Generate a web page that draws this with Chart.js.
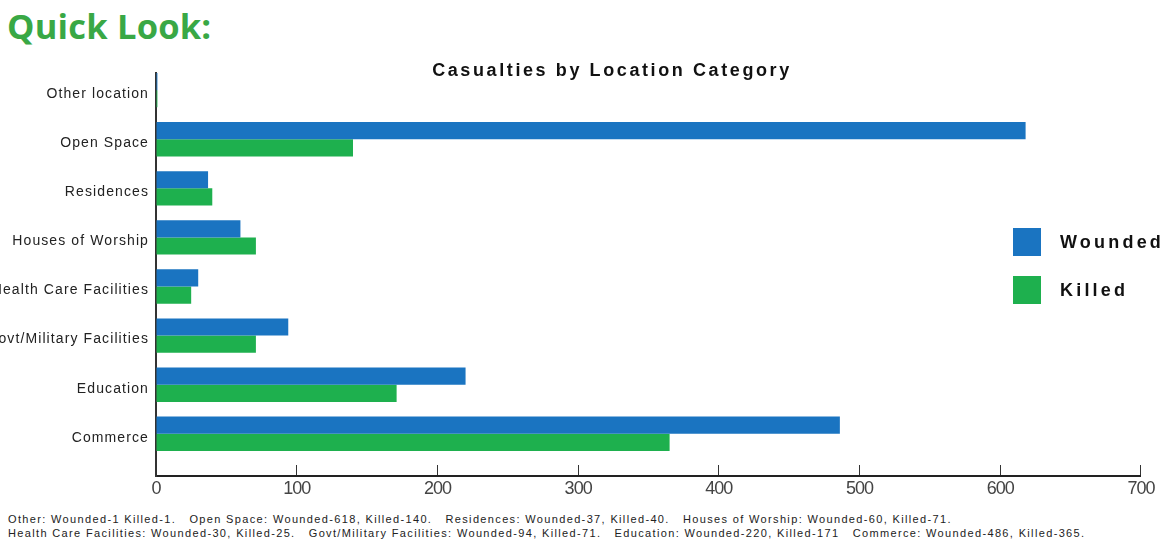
<!DOCTYPE html>
<html>
<head>
<meta charset="utf-8">
<title>Casualties by Location Category</title>
<script src="https://cdn.jsdelivr.net/npm/chart.js@4.4.1/dist/chart.umd.min.js"></script>
<style>
  html, body { margin: 0; padding: 0; background: #fff; }
  body { width: 1169px; height: 554px; position: relative; overflow: hidden; font-family: "Liberation Sans", Arial, sans-serif; }
  .page-title { position: absolute; left: 7px; top: 2px; margin: 0; font-family: "Open Sans", sans-serif; font-weight: 700; font-size: 34.5px; color: #39a845; letter-spacing: 0.2px; }
  .chart-box { position: absolute; left: 0; top: 0; width: 1169px; height: 510px; }
  .chart-title { position: absolute; left: 362px; width: 500px; top: 60px; text-align: center; font-weight: 700; font-size: 18px; letter-spacing: 2.6px; color: #111; }
  .legend { position: absolute; left: 1013px; top: 228px; }
  .legend-item { display: flex; align-items: center; height: 28px; margin-bottom: 20px; }
  .legend-swatch { width: 28px; height: 28px; margin-right: 19px; }
  .legend-text { font-weight: 700; font-size: 18px; letter-spacing: 3.2px; color: #111; }
  .footnote { position: absolute; left: 8px; top: 512px; font-size: 11px; line-height: 14px; letter-spacing: 1.35px; color: #222; white-space: pre; }
</style>
</head>
<body>
<h1 class="page-title">Quick Look:</h1>
<div class="chart-box"><canvas id="casualtyChart"></canvas></div>
<div class="chart-title">Casualties by Location Category</div>
<div class="legend" id="legend"></div>
<div class="footnote">Other: Wounded-1 Killed-1.   Open Space: Wounded-618, Killed-140.   Residences: Wounded-37, Killed-40.   Houses of Worship: Wounded-60, Killed-71.
Health Care Facilities: Wounded-30, Killed-25.   Govt/Military Facilities: Wounded-94, Killed-71.   Education: Wounded-220, Killed-171   Commerce: Wounded-486, Killed-365.</div>

<script>
// location categories, top to bottom
const locations = ['Other location', 'Open Space', 'Residences', 'Houses of Worship',
  'Health Care Facilities', 'Govt/Military Facilities', 'Education', 'Commerce'];
const wounded = [1, 618, 37, 60, 30, 94, 220, 486];
const killed = [1, 140, 40, 71, 25, 71, 171, 365];
const xTicks = [0, 100, 200, 300, 400, 500, 600, 700];

const BLUE = '#1a74c1';
const GREEN = '#1eb04e';

// the location axis is linear so it can run a little past the last row
const toPoints = (values) => values.map((v, i) => ({ x: v, y: i }));

// canvas letterSpacing for one scale's tick labels
function spaceLabels(scale, spacing) {
  if (!scale || scale._spaced) return;
  const draw = scale.drawLabels;
  scale.drawLabels = function (area) {
    const ctx = this.ctx;
    ctx.save();
    ctx.letterSpacing = spacing;
    draw.call(this, area);
    ctx.restore();
  };
  scale._spaced = true;
}

const labelSpacing = {
  id: 'labelSpacing',
  beforeDraw(chart) {
    spaceLabels(chart.scales.y, '1.1px');
    spaceLabels(chart.scales.x, '-1px');
  }
};

const chart = new Chart(document.getElementById('casualtyChart'), {
  type: 'bar',
  data: {
    datasets: [
      { label: 'Wounded', data: toPoints(wounded), backgroundColor: BLUE },
      { label: 'Killed', data: toPoints(killed), backgroundColor: GREEN }
    ]
  },
  options: {
    indexAxis: 'y',
    responsive: true,
    maintainAspectRatio: false,
    animation: false,
    categoryPercentage: 0.7,
    barPercentage: 1.0,
    layout: { padding: { top: 73, right: 26, left: 0, bottom: 0 } },
    plugins: {
      legend: { display: false },
      tooltip: { enabled: false },
      title: { display: false }
    },
    scales: {
      x: {
        type: 'linear',
        min: xTicks[0],
        max: xTicks[xTicks.length - 1],
        afterBuildTicks: (scale) => { scale.ticks = xTicks.map(v => ({ value: v })); },
        afterFit: (scale) => { scale.height = 34; },
        grid: { display: true, drawOnChartArea: false, drawTicks: true, tickLength: -11, color: '#333', lineWidth: 1 },
        border: { display: true, color: '#222', width: 2 },
        ticks: {
          padding: 13,
          color: '#444',
          font: { family: '"Liberation Sans", Arial', size: 18 }
        }
      },
      y: {
        type: 'linear',
        reverse: true,
        offset: false,
        min: -0.35,
        max: 7.86,
        afterBuildTicks: (scale) => { scale.ticks = locations.map((_, i) => ({ value: i })); },
        afterFit: (scale) => { scale.width = 156; },
        grid: { display: false, drawTicks: false, offset: false },
        border: { display: true, color: '#333', width: 2 },
        ticks: {
          padding: 7,
          labelOffset: 4,
          color: '#222',
          font: { family: '"Liberation Sans", Arial', size: 14 },
          callback: (value) => locations[value]
        }
      }
    }
  },
  plugins: [labelSpacing]
});

// legend from the chart's datasets
const legendEl = document.getElementById('legend');
chart.data.datasets.forEach(ds => {
  const item = document.createElement('div');
  item.className = 'legend-item';
  item.innerHTML = '<span class="legend-swatch" style="background:' + ds.backgroundColor + '"></span>' +
    '<span class="legend-text">' + ds.label + '</span>';
  legendEl.appendChild(item);
});
</script>
</body>
</html>
